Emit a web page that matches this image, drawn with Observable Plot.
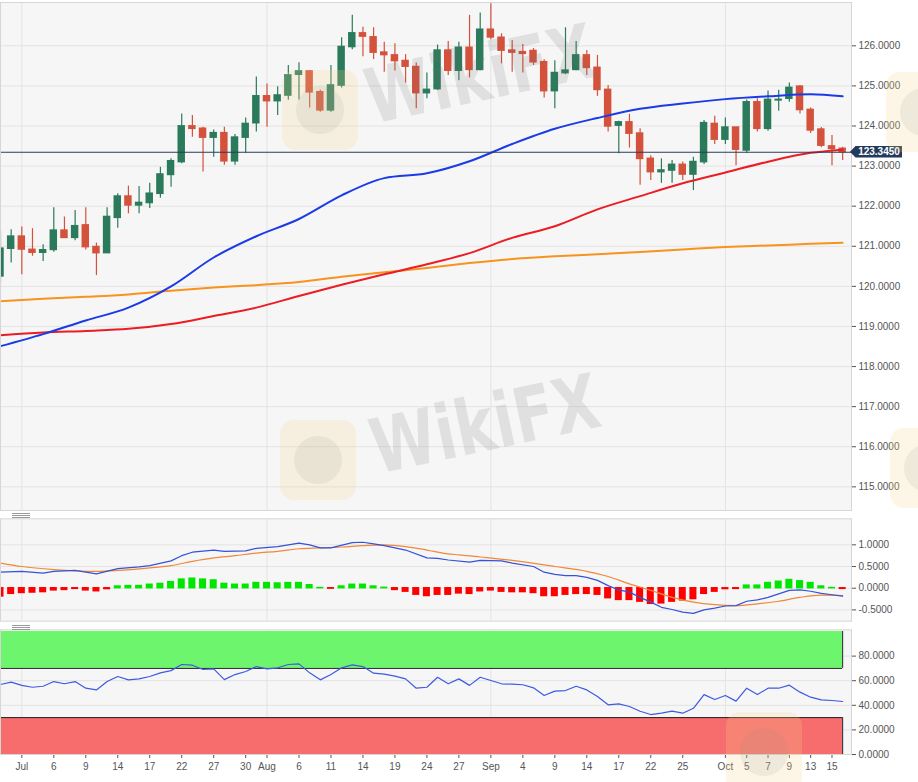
<!DOCTYPE html>
<html><head><meta charset="utf-8">
<script src="https://cdn.jsdelivr.net/npm/d3@7"></script>
<script src="https://cdn.jsdelivr.net/npm/@observablehq/plot@0.6"></script>
<style>
html,body{margin:0;padding:0;background:#fff;}
#wrap{position:relative;width:918px;height:782px;overflow:hidden;font-family:"Liberation Sans",Arial,sans-serif;}
#wrap svg{position:absolute;left:0;}
.wm{position:absolute;pointer-events:none;}
.wmt{font-family:"DejaVu Sans",sans-serif;font-weight:bold;color:rgba(115,115,115,0.16);font-size:76px;line-height:76px;white-space:nowrap;transform-origin:0 64px;transform:rotate(-12deg) scaleX(0.78);}
.logo{border-radius:14px;background:rgba(246,214,140,0.22);}
.logo::after{content:"";position:absolute;left:14px;top:16px;width:48px;height:48px;border-radius:50%;background:rgba(140,140,140,0.12);}
.handle{position:absolute;left:12px;width:18px;height:1px;background:#9a9a9a;}
</style></head><body><div id="wrap"></div>
<script>
// ---- Candles (trading days 29 Jun 2020 .. 16 Oct 2020, index 0..79) ----
const open  = [120.25,120.94,121.24,120.91,120.84,120.91,121.39,121.21,121.52,120.98,
               120.83,121.71,122.24,122.02,122.08,122.31,122.78,123.10,123.99,123.93,
               123.71,123.82,123.12,123.71,124.07,124.74,124.62,124.76,125.28,125.36,
               124.84,124.39,125.01,125.97,126.31,126.21,125.83,125.76,125.62,125.47,
               124.82,124.92,125.88,125.38,125.95,125.40,126.40,126.20,125.88,125.84,
               125.87,125.59,124.87,125.32,125.40,125.76,125.45,124.90,124.01,124.09,
               123.81,123.18,122.85,122.89,123.03,122.79,123.10,124.05,123.66,123.96,
               123.39,124.59,123.93,124.64,124.68,124.98,124.40,123.91,123.49,123.43];
const high  = [121.37,121.41,121.48,121.44,121.04,121.96,121.73,121.89,121.96,121.08,
               121.96,122.31,122.50,122.49,122.57,122.97,123.18,124.30,124.26,123.97,
               123.90,123.97,123.79,124.20,125.22,125.05,124.98,125.51,125.58,125.38,
               124.89,125.51,126.20,126.76,126.46,126.45,126.09,126.05,125.78,125.57,
               125.32,126.02,126.11,126.09,126.76,126.82,127.05,126.30,126.13,126.03,
               125.93,125.65,125.63,126.45,126.11,125.88,125.76,125.01,124.12,124.29,
               123.93,123.26,123.18,123.14,123.10,123.22,124.14,124.24,124.20,123.96,
               124.65,124.68,124.87,124.89,125.07,125.01,124.45,123.96,123.76,123.47];
const low   = [120.07,120.58,120.29,120.75,120.62,120.85,121.20,121.14,120.91,120.27,
               120.83,121.45,121.81,121.81,121.94,122.20,122.47,123.06,123.72,122.85,
               123.22,123.02,123.02,123.32,123.85,123.97,124.26,124.64,124.65,124.45,
               124.34,124.34,124.95,125.90,125.73,125.66,125.34,125.37,125.07,124.43,
               124.68,124.89,125.26,125.13,125.20,125.38,126.15,125.55,125.34,125.32,
               125.51,124.70,124.43,125.28,125.38,125.26,124.74,123.85,123.31,123.45,
               122.52,122.64,122.57,122.57,122.64,122.39,123.04,123.54,123.54,123.01,
               123.32,123.85,123.87,124.37,124.59,124.30,123.81,123.46,123.01,123.14];
const close = [120.94,121.24,120.92,120.84,120.90,121.39,121.21,121.50,120.98,120.83,
               121.73,122.24,122.02,122.08,122.31,122.79,123.12,123.99,123.93,123.71,
               123.82,123.12,123.71,124.05,124.74,124.62,124.76,125.26,125.36,124.84,
               124.39,125.01,125.97,126.31,126.23,125.83,125.77,125.62,125.48,124.82,
               124.90,125.88,125.38,125.95,125.40,126.40,126.21,125.88,125.83,125.80,
               125.59,124.87,125.32,125.38,125.76,125.45,124.90,123.99,124.09,123.81,
               123.18,122.85,122.89,123.03,122.79,123.10,124.07,123.66,123.96,123.41,
               124.59,123.93,124.65,124.65,124.95,124.40,123.89,123.51,123.43,123.35];
const lastPrice = 123.345;

// ---- Moving averages (read at sampled day indices) ----
const maIdx  = [0,4,8,12,16,20,24,28,32,36,40,44,48,52,56,60,64,68,72,76,79];
const ma50   = [118.51,118.81,119.15,119.47,120.00,120.72,121.25,121.68,122.27,122.70,122.82,123.12,123.55,123.93,124.20,124.43,124.56,124.67,124.74,124.79,124.74];
const ma100  = [118.78,118.85,118.89,118.94,119.06,119.26,119.47,119.76,120.04,120.30,120.55,120.83,121.21,121.50,121.92,122.25,122.57,122.84,123.11,123.33,123.41];
const ma200  = [119.63,119.69,119.74,119.80,119.89,119.97,120.03,120.11,120.24,120.35,120.46,120.58,120.68,120.75,120.80,120.86,120.92,120.98,121.02,121.06,121.09];

// ---- MACD ----
const macdIdx = [0,2,4,5,7,9,11,13,14,16,17,18,20,21,23,24,26,28,29,30,31,33,34,35,36,38,40,41,42,44,45,47,48,50,51,52,53,54,55,56,57,58,59,60,61,62,63,64,65,66,67,68,69,70,71,72,73,74,75,76,77,78,79];
const macdVal = [0.37,0.39,0.35,0.39,0.41,0.33,0.45,0.49,0.52,0.63,0.75,0.83,0.88,0.85,0.86,0.92,0.96,1.04,1.00,0.93,0.93,1.05,1.06,1.02,0.98,0.88,0.70,0.69,0.65,0.60,0.64,0.63,0.58,0.50,0.37,0.32,0.29,0.29,0.25,0.18,0.06,-0.04,-0.09,-0.21,-0.32,-0.44,-0.49,-0.55,-0.58,-0.50,-0.46,-0.41,-0.40,-0.30,-0.27,-0.21,-0.13,-0.05,-0.04,-0.07,-0.12,-0.15,-0.18];
const signalIdx = [0,2,5,9,11,14,16,18,20,22,24,26,28,30,32,34,36,38,40,42,43,45,48,52,55,57,59,61,63,65,67,69,71,73,75,77,79];
const signalVal = [0.58,0.50,0.43,0.39,0.41,0.47,0.52,0.62,0.70,0.75,0.81,0.85,0.91,0.93,0.95,0.98,1.00,0.96,0.88,0.79,0.77,0.72,0.64,0.50,0.39,0.27,0.10,-0.05,-0.21,-0.32,-0.38,-0.40,-0.36,-0.30,-0.21,-0.16,-0.17];
const histVal = [-0.19,-0.13,-0.11,-0.10,-0.09,-0.05,-0.04,-0.015,-0.05,-0.07,
                 -0.02,0.04,0.05,0.05,0.08,0.10,0.14,0.20,0.22,0.20,
                 0.18,0.10,0.08,0.08,0.12,0.12,0.11,0.12,0.12,0.07,
                 0.005,-0.01,0.04,0.08,0.08,0.04,0.01,-0.04,-0.08,-0.15,
                 -0.18,-0.15,-0.15,-0.12,-0.13,-0.07,-0.05,-0.08,-0.09,-0.09,
                 -0.11,-0.18,-0.18,-0.15,-0.13,-0.13,-0.15,-0.23,-0.27,-0.27,
                 -0.31,-0.36,-0.35,-0.31,-0.28,-0.25,-0.13,-0.08,-0.02,-0.015,
                 0.06,0.06,0.12,0.15,0.19,0.16,0.12,0.04,0.005,-0.015];

// ---- RSI ----
const rsiVal = [56.9,58.8,56.2,54.7,55.5,59.3,57.5,59.3,53.9,52.5,
                59.3,63.4,60.7,61.5,63.4,66.4,68.2,73.2,72.6,69.1,
                69.6,60.9,65.0,67.5,71.5,69.6,70.5,73.2,73.7,66.4,
                60.7,65.0,70.5,72.9,71.5,66.1,65.3,63.7,61.5,53.9,
                54.7,62.8,57.5,61.5,56.2,62.8,60.2,57.5,57.2,56.7,
                54.2,48.0,51.5,52.0,55.5,52.5,47.1,40.4,41.2,39.0,
                35.2,32.5,33.6,35.2,33.6,37.6,48.7,44.7,48.0,43.4,
                53.9,48.7,53.9,53.9,56.4,50.7,46.6,44.4,43.9,43.1];
const rsiUpper = [70,100];
const rsiLower = [0,30];

// ---- Axis ticks ----
const priceTicks = [115,116,117,118,119,120,121,122,123,124,125,126];
const macdTicks = [-0.5,0,0.5,1];
const rsiTicks = [0,20,40,60,80];
const dayTickIdx = [2,5,8,11,14,17,20,23,25,28,31,34,37,40,43,46,49,52,55,58,61,64,68,70,72,74,76,78];
const dayTickLabels = ["Jul","6","9","14","17","22","27","30","Aug","6","11","14","19","24","27","Sep","4","9","14","17","22","25","Oct","5","7","9","13","15"];
const monthIdx = [2,25,46,68];

// ---- styling constants ----
const GREEN = "#2b7a5b", RED = "#d4513b";
const BG = "#f6f6f6", GRID = "#e3e3e3", BORDER = "#d6d6d6";
const XDOM = [0, 79.83];
const font = {fontFamily:"'Liberation Sans', Arial, sans-serif", fontSize:"10px", color:"#555", background:"transparent", overflow:"visible"};

const candles = open.map((o,i)=>({i, o, h:high[i], l:low[i], c:close[i], up: close[i] >= o}));
const maRows = (arr) => maIdx.map((d,k)=>({i:d, v:arr[k]}));
const wrap = document.getElementById("wrap");

// ---------- MAIN PRICE PANEL ----------
const main = Plot.plot({
  width: 918, height: 512, marginLeft: 0, marginRight: 67, marginTop: 2, marginBottom: 2,
  style: font,
  x: {domain: XDOM, axis: null},
  y: {domain: [114.41, 127.08], axis: "right", ticks: priceTicks, tickFormat: d => d.toFixed(4), tickSize: 4, tickPadding: 3, label: null},
  marks: [
    Plot.frame({fill: BG, stroke: null}),
    Plot.ruleY(priceTicks, {stroke: GRID}),
    Plot.ruleX(monthIdx, {stroke: GRID}),
    Plot.ruleX(candles, {x: "i", y1: "l", y2: "h", stroke: d => d.up ? GREEN : RED, strokeWidth: 1.2}),
    Plot.rect(candles, {x1: d => d.i - 0.35, x2: d => d.i + 0.35, y1: "o", y2: "c", fill: d => d.up ? GREEN : RED, insetTop: -0.8, insetBottom: -0.8}),
    Plot.line(maRows(ma200), {x: "i", y: "v", stroke: "#f7931e", strokeWidth: 2, curve: "monotone-x"}),
    Plot.line(maRows(ma100), {x: "i", y: "v", stroke: "#ec1c24", strokeWidth: 2, curve: "monotone-x"}),
    Plot.line(maRows(ma50), {x: "i", y: "v", stroke: "#1a3be6", strokeWidth: 2, curve: "monotone-x"}),
    Plot.ruleY([lastPrice], {stroke: "#2c3d5b", strokeWidth: 1}),
    Plot.frame({stroke: BORDER})
  ]
});
main.style.top = "0px";
wrap.appendChild(main);
{
  const yp = main.scale("y").apply(lastPrice);
  const g = d3.select(main).append("g");
  g.append("path")
    .attr("d", `M850,${yp} L855.5,${yp-5.8} L902,${yp-5.8} L902,${yp+5.8} L855.5,${yp+5.8} Z`)
    .attr("fill", "#233a5c");
  g.append("text").attr("x", 879).attr("y", yp).attr("dy", "0.36em")
    .attr("text-anchor", "middle").attr("fill", "#fff")
    .style("font", "bold 10px 'Liberation Sans', Arial, sans-serif")
    .text(lastPrice.toFixed(4));
}

// ---------- MACD PANEL ----------
const macdRows = macdIdx.map((d,k)=>({i:d, v:macdVal[k]}));
const sigRows = signalIdx.map((d,k)=>({i:d, v:signalVal[k]}));
const histRows = histVal.map((v,i)=>({i, v}));
const macd = Plot.plot({
  width: 918, height: 112, marginLeft: 0, marginRight: 67, marginTop: 6.3, marginBottom: 3.3,
  style: font,
  x: {domain: XDOM, axis: null},
  y: {domain: [-0.76, 1.6], axis: "right", ticks: macdTicks, tickFormat: d => d.toFixed(4), tickSize: 4, tickPadding: 3, label: null},
  marks: [
    Plot.frame({fill: BG, stroke: null}),
    Plot.ruleY(macdTicks, {stroke: GRID}),
    Plot.ruleX(monthIdx, {stroke: GRID}),
    Plot.rect(histRows, {x1: d => d.i - 0.33, x2: d => d.i + 0.33, y1: 0, y2: "v", fill: d => d.v >= 0 ? "#00e600" : "#ff0000", insetTop: -0.7, insetBottom: -0.7}),
    Plot.line(sigRows, {x: "i", y: "v", stroke: "#f0883a", strokeWidth: 1.2, curve: "monotone-x"}),
    Plot.line(macdRows, {x: "i", y: "v", stroke: "#3552d8", strokeWidth: 1.2}),
    Plot.frame({stroke: BORDER})
  ]
});
macd.style.top = "512px";
wrap.appendChild(macd);

// ---------- RSI PANEL ----------
const rsiRows = rsiVal.map((v,i)=>({i, v}));
const lastIdx = rsiVal.length - 1;
const rsi = Plot.plot({
  width: 918, height: 158, marginLeft: 0, marginRight: 67, marginTop: 5.3, marginBottom: 28,
  style: font,
  x: {domain: XDOM, axis: "bottom", ticks: dayTickIdx, tickFormat: d => dayTickLabels[dayTickIdx.indexOf(d)], tickSize: 4, tickPadding: 4, label: null},
  y: {domain: [0, 101.4], axis: "right", ticks: rsiTicks, tickFormat: d => d.toFixed(4), tickSize: 4, tickPadding: 3, label: null},
  marks: [
    Plot.frame({fill: BG, stroke: null}),
    Plot.ruleY(rsiTicks, {stroke: GRID}),
    Plot.ruleX(monthIdx, {stroke: GRID}),
    Plot.rect([rsiUpper], {x1: -1, x2: lastIdx, y1: d => d[0], y2: d => d[1], fill: "#6ef56e"}),
    Plot.rect([rsiLower], {x1: -1, x2: lastIdx, y1: d => d[0], y2: d => d[1], fill: "#f76c6c"}),
    Plot.ruleY([rsiUpper[0], rsiLower[1]], {x1: -1, x2: lastIdx, stroke: "#222", strokeWidth: 1}),
    Plot.ruleX([lastIdx], {y1: rsiUpper[0], y2: rsiUpper[1], stroke: "#222"}),
    Plot.ruleX([lastIdx], {y1: rsiLower[0], y2: rsiLower[1], stroke: "#222"}),
    Plot.line(rsiRows, {x: "i", y: "v", stroke: "#3d5be0", strokeWidth: 1.2}),
    Plot.frame({stroke: BORDER})
  ]
});
rsi.style.top = "624px";
wrap.appendChild(rsi);

// ---------- panel handles ----------
[512.5, 514.5, 516.5, 624.5, 626.5, 628.5].forEach(y => {
  const h = document.createElement("div"); h.className = "handle"; h.style.top = y + "px"; wrap.appendChild(h);
});

// ---------- watermark ----------
[{lx:282, ly:70},{lx:280, ly:420},{lx:726, ly:712},{lx:886, ly:72},{lx:890, ly:428}].forEach(w => {
  const l = document.createElement("div"); l.className = "wm logo";
  Object.assign(l.style, {left: w.lx+"px", top: w.ly+"px", width:"76px", height:"80px"}); wrap.appendChild(l);
});
[{x:372, y:60},{x:377, y:410}].forEach(w => {
  const t = document.createElement("div"); t.className = "wm wmt"; t.textContent = "WikiFX";
  Object.assign(t.style, {left: w.x+"px", top: w.y+"px"}); wrap.appendChild(t);
});
</script></body></html>
